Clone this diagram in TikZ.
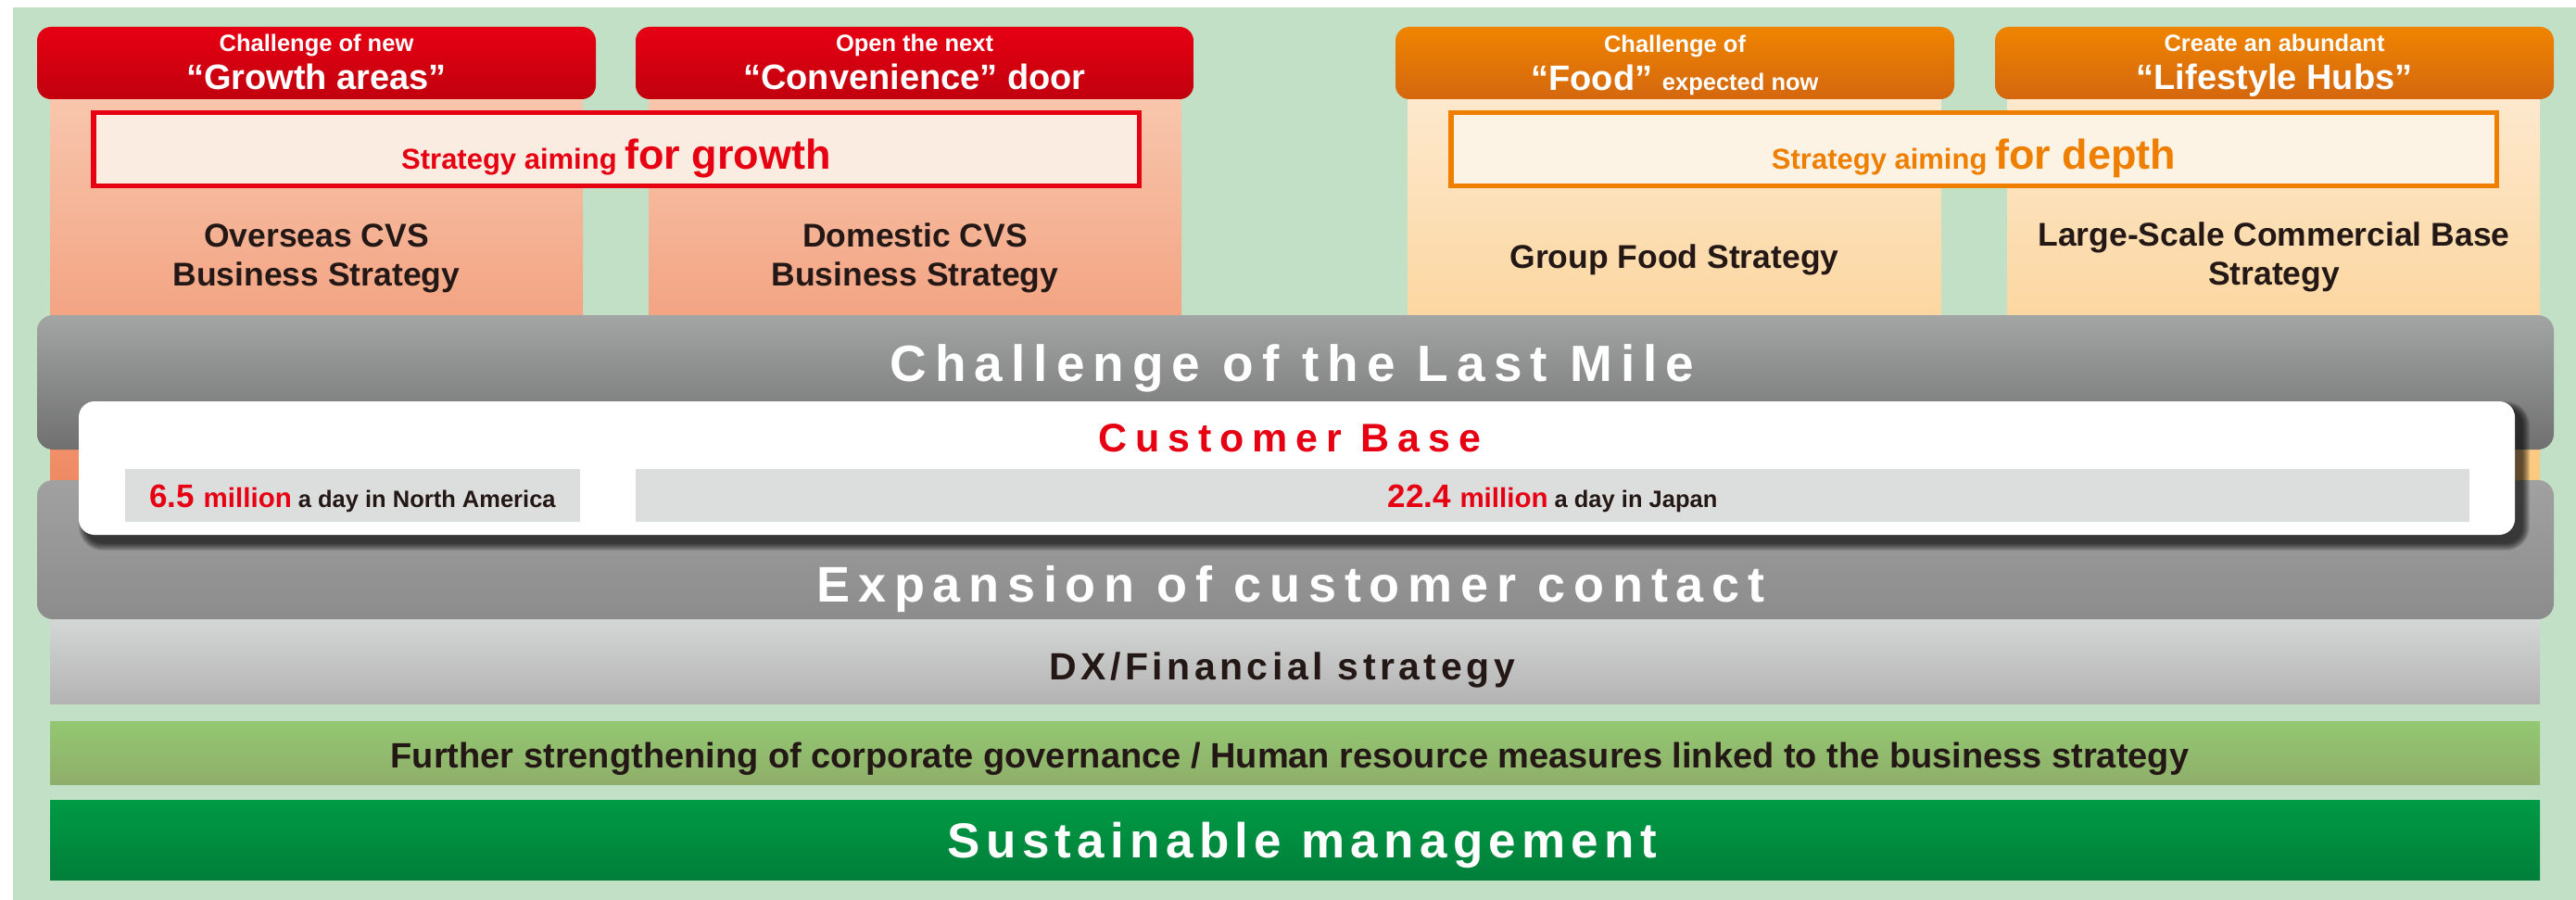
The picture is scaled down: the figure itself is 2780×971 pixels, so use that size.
\documentclass[tikz,border=0pt]{standalone}
\usepackage{fontspec}
\setmainfont{Liberation Sans}
\newfontfamily\spA[LetterSpace=16.4]{Liberation Sans}
\newfontfamily\spB[LetterSpace=20.5]{Liberation Sans}
\newfontfamily\spC[LetterSpace=16.2]{Liberation Sans}
\newfontfamily\spD[LetterSpace=11.9]{Liberation Sans}
\newfontfamily\spE[LetterSpace=11]{Liberation Sans}
\newcommand\fs[1]{\fontsize{#1}{#1}\selectfont}

\definecolor{bggreen}{HTML}{C2E0C5}
\definecolor{redT}{HTML}{E60013}
\definecolor{redB}{HTML}{C1000E}
\definecolor{orT}{HTML}{EF8400}
\definecolor{orB}{HTML}{D4670F}
\definecolor{peachT}{HTML}{F8C7AE}
\definecolor{peachB}{HTML}{EF8A63}
\definecolor{creamT}{HTML}{FDE9CF}
\definecolor{creamB}{HTML}{FBC97E}
\definecolor{keyred}{HTML}{E60012}
\definecolor{keyorange}{HTML}{EE7F00}
\definecolor{redfill}{HTML}{FBECE2}
\definecolor{orfill}{HTML}{FDF3E5}
\definecolor{inkdark}{HTML}{231815}
\definecolor{paleGrey}{HTML}{DCDDDD}
\definecolor{dxT}{HTML}{DADBDB}
\definecolor{dxB}{HTML}{B3B3B3}
\definecolor{lgT}{HTML}{93C871}
\definecolor{lgB}{HTML}{8FAE6A}
\definecolor{dgT}{HTML}{009A44}
\definecolor{dgB}{HTML}{007F3A}
\definecolor{bandAT}{HTML}{A3A4A4}
\definecolor{bandAM}{HTML}{949494}
\definecolor{bandAB}{HTML}{707070}
\definecolor{bandBT}{HTML}{A1A1A1}
\definecolor{bandBB}{HTML}{8C8C8C}

\tikzset{
  column/.style={top color=#1T, bottom color=#1B},
  header/.style={rounded corners=15pt, top color=#1T, bottom color=#1B},
  aimbox/.style={line width=5.5pt, draw=#1},
  band/.style={rounded corners=17pt},
  flat/.style={inner sep=0pt, outer sep=0pt, anchor=base},
  hdsmall/.style={flat, text=white, font=\bfseries\fs{25.5}},
  hdbig/.style={flat, text=white, font=\bfseries\fs{38}},
  coltext/.style={flat, text=inkdark, font=\bfseries\fs{35.5}},
}

\begin{document}
\begin{tikzpicture}[x=1pt,y=-1pt]
\useasboundingbox (0,0) rectangle (2780,971);
\fill[white] (0,0) rectangle (2780,971);
\fill[bggreen] (14,8) rectangle (2780,971);

% strategy columns
\shade[column=peach] (54,100) rectangle (629,520);
\shade[column=peach] (700,100) rectangle (1275,520);
\shade[column=cream] (1519,100) rectangle (2095,520);
\shade[column=cream] (2166,100) rectangle (2741,520);

% DX band (its top lies under the lower grey band)
\shade[top color=dxT, bottom color=dxB] (54,655) rectangle (2741,759);

% headers
\shade[header=red] (40,29) rectangle (643,107);
\shade[header=red] (686,29) rectangle (1288,107);
\shade[header=or] (1506,29) rectangle (2109,107);
\shade[header=or] (2153,29) rectangle (2756,107);

% strategy frames
\filldraw[aimbox=keyred, fill=redfill] (100.75,121.75) rectangle (1229.25,200.25);
\filldraw[aimbox=keyorange, fill=orfill] (1565.75,121.75) rectangle (2694.25,200.25);

% grey bands
\shade[band, top color=bandBT, bottom color=bandBB] (40,518) rectangle (2756,668);
\shade[band, top color=bandAT, middle color=bandAM, bottom color=bandAB] (40,340) rectangle (2756,485);

% shadow under the customer base panel
\foreach \s in {0,...,9}
  \fill[black, opacity=0.09, rounded corners=17pt+\s pt]
    (85+8-\s*0.9,433+8-\s*0.9) rectangle (2714+8+\s*0.9,577+9+\s*0.9);
\fill[white, rounded corners=17pt] (85,433) rectangle (2714,577);
\fill[paleGrey] (135,506) rectangle (626,563);
\fill[paleGrey] (686,506) rectangle (2665,563);

% lower bands
\shade[top color=lgT, bottom color=lgB] (54,778) rectangle (2741,846);
\shade[top color=dgT, bottom color=dgB] (54,863) rectangle (2741,949);

% header texts
\node[hdsmall] (h1a) at (341.5,56) {Challenge of new};
\node[hdbig]   (h1b) at (341.5,97) {“Growth areas”};
\node[hdsmall] (h2a) at (987,56) {Open the next};
\node[hdbig]   (h2b) at (987,97) {“Convenience” door};
\node[hdsmall] (h3a) at (1807.5,57) {Challenge of};
\node[hdbig]   (h3b) at (1807.5,98) {“Food” {\fs{25.5}expected now}};
\node[hdsmall] (h4a) at (2454.5,56) {Create an abundant};
\node[hdbig]   (h4b) at (2454.5,97) {“Lifestyle Hubs”};

% strategy frame texts
\node[flat, text=keyred, font=\bfseries] (aimgrowth) at (665,182)
  {\fs{31}Strategy aiming \fs{45}for growth};
\node[flat, text=keyorange, font=\bfseries] (aimdepth) at (2130,182)
  {\fs{31}Strategy aiming \fs{45}for depth};

% column texts
\node[coltext] (c1a) at (341.5,266) {Overseas CVS};
\node[coltext] (c1b) at (341.5,308) {Business Strategy};
\node[coltext] (c2a) at (987.5,266) {Domestic CVS};
\node[coltext] (c2b) at (987.5,308) {Business Strategy};
\node[coltext] (c3a) at (1807,289) {Group Food Strategy};
\node[coltext] (c4a) at (2454,265) {Large-Scale Commercial Base};
\node[coltext] (c4b) at (2454,307) {Strategy};

% band titles
\node[flat, text=white, font=\spA\bfseries\fs{55}] (lastmile) at (1394.5,411) {Challenge of the Last Mile};
\node[flat, text=keyred, font=\spB\bfseries\fs{43}] (custbase) at (1392,487) {Customer Base};
\node[flat, text=inkdark, font=\bfseries] (northam) at (380.5,547)
  {\fs{35}\textcolor{keyred}{6.5 \fs{29.5}million}\fs{25.5}\ a day in North America};
\node[flat, text=inkdark, font=\bfseries] (japan) at (1675.5,547)
  {\fs{35}\textcolor{keyred}{22.4 \fs{29.5}million}\fs{25.5}\ a day in Japan};
\node[flat, text=white, font=\spC\bfseries\fs{54}] (expand) at (1393,649) {Expansion of customer contact};
\node[flat, text=inkdark, font=\spE\bfseries\fs{41}] (dxfin) at (1383.5,733) {DX/Financial strategy};
\node[flat, text=inkdark, font=\bfseries\fs{38}] (govern) at (1392,828)
  {Further strengthening of corporate governance / Human resource measures linked to the business strategy};
\node[flat, text=white, font=\spD\bfseries\fs{53}] (sustain) at (1405.5,925) {Sustainable management};
\end{tikzpicture}
\end{document}
